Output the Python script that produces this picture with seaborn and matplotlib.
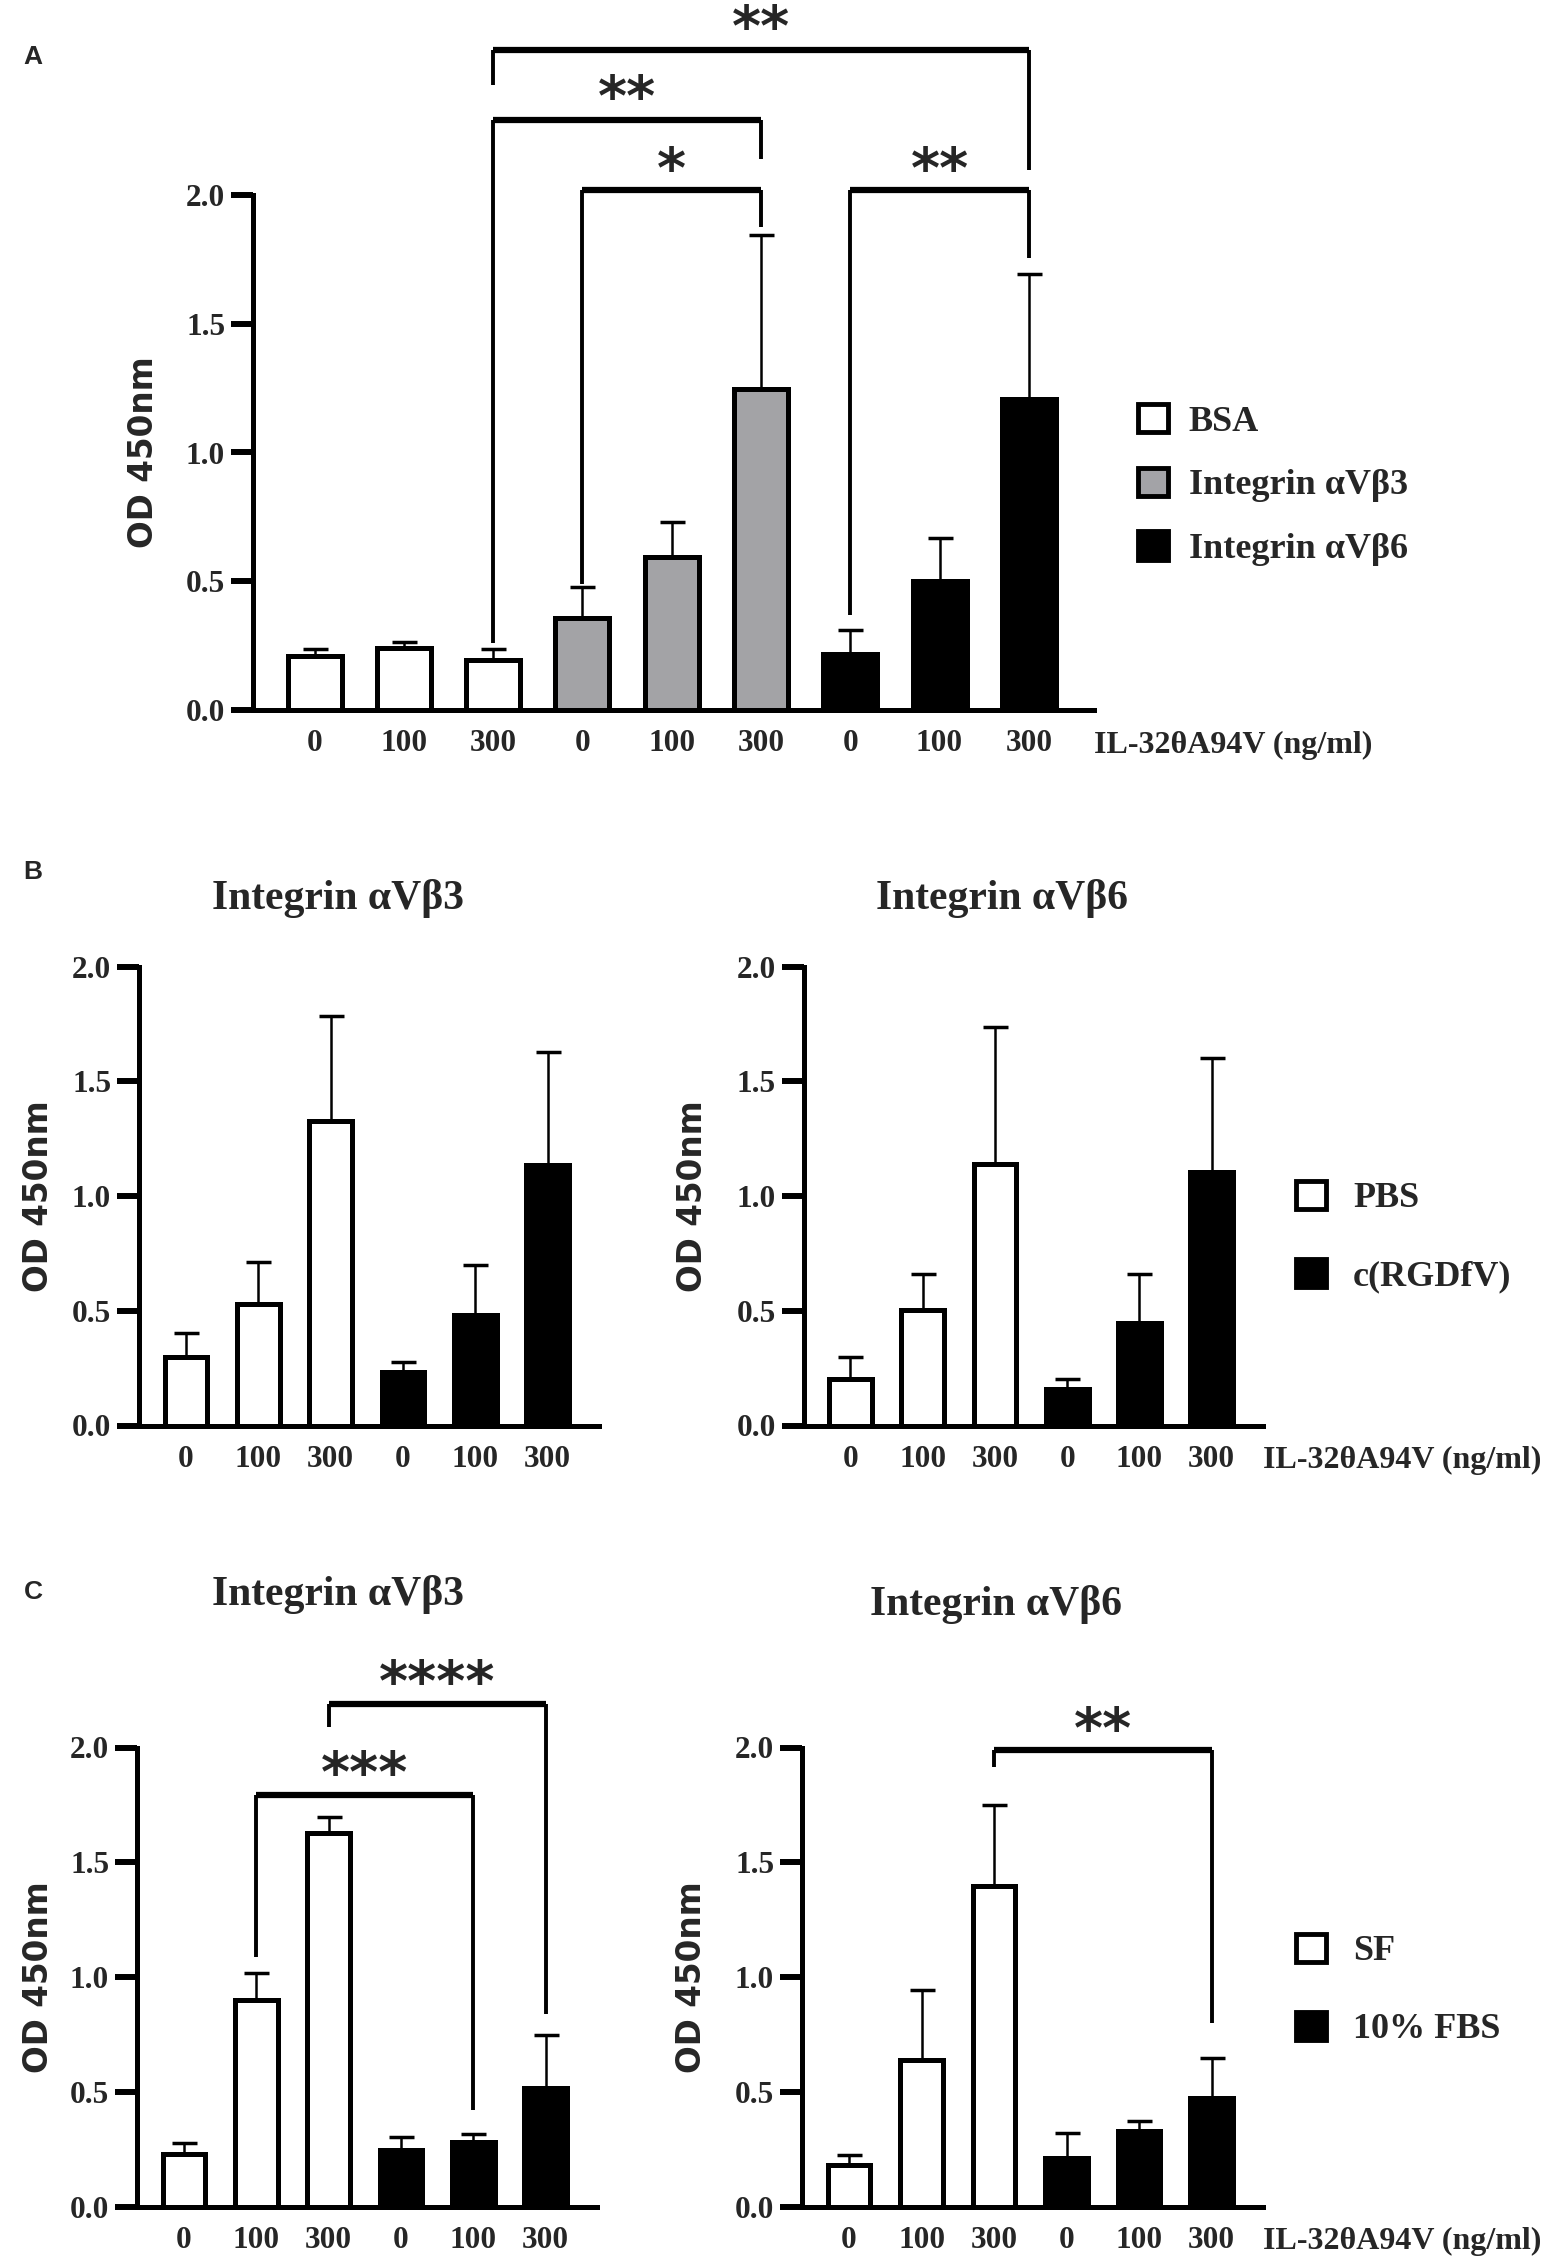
import numpy as np
import pandas as pd
import matplotlib
matplotlib.use("Agg")
import matplotlib.pyplot as plt
import seaborn as sns
from matplotlib.patches import Patch

# ---------------- data ----------------
doses = ["0", "100", "300"]
x_title = "IL-32θA94V (ng/ml)"
y_title = "OD 450nm"

# Panel A
a_groups = ["BSA", "Integrin αVβ3", "Integrin αVβ6"]
a_bsa_mean = [0.21, 0.24, 0.195]
a_bsa_sd = [0.026, 0.025, 0.043]
a_b3_mean = [0.357, 0.593, 1.246]
a_b3_sd = [0.120, 0.139, 0.599]
a_b6_mean = [0.218, 0.500, 1.208]
a_b6_sd = [0.093, 0.167, 0.487]

# Panel B
b_groups = ["PBS", "c(RGDfV)"]
b_b3_pbs_mean = [0.300, 0.530, 1.328]
b_b3_pbs_sd = [0.103, 0.181, 0.458]
b_b3_rgd_mean = [0.234, 0.481, 1.137]
b_b3_rgd_sd = [0.041, 0.220, 0.491]
b_b6_pbs_mean = [0.201, 0.502, 1.140]
b_b6_pbs_sd = [0.096, 0.160, 0.596]
b_b6_rgd_mean = [0.160, 0.445, 1.104]
b_b6_rgd_sd = [0.043, 0.217, 0.496]

# Panel C
c_groups = ["SF", "10% FBS"]
c_b3_sf_mean = [0.232, 0.903, 1.630]
c_b3_sf_sd = [0.045, 0.117, 0.067]
c_b3_fbs_mean = [0.250, 0.283, 0.519]
c_b3_fbs_sd = [0.053, 0.036, 0.228]
c_b6_sf_mean = [0.182, 0.640, 1.398]
c_b6_sf_sd = [0.044, 0.305, 0.352]
c_b6_fbs_mean = [0.210, 0.327, 0.473]
c_b6_fbs_sd = [0.109, 0.045, 0.173]

panel_titles = ["Integrin αVβ3", "Integrin αVβ6"]

# ---------------- style ----------------
sns.set_theme(style="ticks")
plt.rcParams["font.family"] = ["Liberation Serif", "DejaVu Serif"]
plt.rcParams["font.weight"] = "bold"

W, H = 1559, 2266
fig = plt.figure(figsize=(W / 100, H / 100), dpi=100)

WHITE, GREY, BLACK = "#ffffff", "#a3a3a7", "#000000"


def px_axes(left, right, y0, y2):
    return fig.add_axes([left / W, 1 - y0 / H, (right - left) / W, (y0 - y2) / H])


def bar_panel(ax, groups, means, sds, colors, xlim, width, ylabel_px, ax_w):
    cats, vals, hues = [], [], []
    for g, m in zip(groups, means):
        for d, v in zip(doses, m):
            cats.append(f"{g}|{d}")
            vals.append(v)
            hues.append(g)
    df = pd.DataFrame({"cat": cats, "val": vals, "grp": hues})
    sns.barplot(data=df, x="cat", y="val", hue="grp", order=cats,
                hue_order=groups, palette=dict(zip(groups, colors)),
                dodge=False, width=width, edgecolor="black", linewidth=3.6,
                errorbar=None, legend=False, ax=ax)
    err = np.concatenate([np.asarray(s) for s in sds])
    ax.errorbar(np.arange(len(cats)), vals,
                yerr=[np.zeros(len(cats)), err], fmt="none", ecolor="black",
                elinewidth=1.8, capsize=9, capthick=2.5, zorder=3)
    ax.set_xlim(*xlim)
    ax.set_ylim(0, 2.0)
    ax.set_xticks(np.arange(len(cats)))
    ax.set_xticklabels(doses * len(groups))
    ax.set_yticks([0, 0.5, 1.0, 1.5, 2.0])
    ax.set_yticklabels(["0.0", "0.5", "1.0", "1.5", "2.0"])
    ax.tick_params(axis="x", length=0, pad=14, labelsize=22.5)
    ax.tick_params(axis="y", length=16, width=4.3, pad=4, labelsize=22.5,
                   direction="out", color="black")
    for lab in ax.get_xticklabels() + ax.get_yticklabels():
        lab.set_fontweight("bold")
    sns.despine(ax=ax)
    for s in ["left", "bottom"]:
        ax.spines[s].set_linewidth(3.6)
        ax.spines[s].set_color("black")
    ax.set_xlabel("")
    ax.set_ylabel(y_title, fontfamily="DejaVu Sans", fontweight="bold",
                  fontsize=23.5)
    ax.yaxis.set_label_coords(-(ylabel_px - 19) / ax_w, 0.5)


def add_xtitle(ax):
    ax.annotate(x_title, xy=(1, 0), xycoords="axes fraction",
                xytext=(0, -25.5), textcoords="offset points",
                ha="left", va="center", fontsize=23, fontweight="bold",
                annotation_clip=False)


def bracket(ax, x1, x2, yh, yl1, yl2):
    ax.plot([x1, x2], [yh, yh], color="black", lw=4.5, clip_on=False,
            solid_capstyle="butt", zorder=4)
    ax.plot([x1, x1], [yh, yl1], color="black", lw=2.8, clip_on=False,
            solid_capstyle="butt", zorder=4)
    ax.plot([x2, x2], [yh, yl2], color="black", lw=2.8, clip_on=False,
            solid_capstyle="butt", zorder=4)


def stars(ax, x, yc, s, size=40):
    ax.annotate(s, xy=(x, yc), xytext=(0, -0.55 * size),
                textcoords="offset points", ha="center", va="baseline",
                fontfamily="DejaVu Sans", fontweight="bold", fontsize=size,
                annotation_clip=False)


def legend(ax, groups, colors, x_px, y_px, spacing, pad):
    handles = [Patch(facecolor=c, edgecolor="black", linewidth=3.5, label=g)
               for g, c in zip(groups, colors)]
    ax.legend(handles=handles, loc="center left",
              bbox_to_anchor=(x_px / W, 1 - y_px / H),
              bbox_transform=fig.transFigure, frameon=False,
              prop={"size": 26, "weight": "bold"}, handlelength=0.83,
              handleheight=0.83, handletextpad=pad, labelspacing=spacing,
              borderpad=0, borderaxespad=0)


# ---------------- Panel A ----------------
axA = px_axes(253, 1094, 710, 195)
bar_panel(axA, a_groups, [a_bsa_mean, a_b3_mean, a_b6_mean],
          [a_bsa_sd, a_b3_sd, a_b6_sd], [WHITE, GREY, BLACK],
          (-0.69, 8.73), 0.605, 112, 841)
add_xtitle(axA)
bracket(axA, 2, 8, 2.563, 2.427, 2.097)
bracket(axA, 2, 5, 2.291, 0.26, 2.14)
bracket(axA, 3, 5, 2.02, 0.49, 1.874)
bracket(axA, 6, 8, 2.02, 0.37, 1.757)
stars(axA, 5, 2.70, "**")
stars(axA, 3.5, 2.43, "**")
stars(axA, 4, 2.15, "*")
stars(axA, 7, 2.15, "**")
legend(axA, a_groups, [WHITE, GREY, BLACK], 1138, 485, 0.80, 0.58)

# ---------------- Panel B ----------------
axB1 = px_axes(139, 599, 1425.5, 966.5)
bar_panel(axB1, b_groups, [b_b3_pbs_mean, b_b3_rgd_mean],
          [b_b3_pbs_sd, b_b3_rgd_sd], [WHITE, BLACK],
          (-0.65, 5.71), 0.59, 103, 460)
axB2 = px_axes(803.5, 1263, 1425.5, 966.5)
bar_panel(axB2, b_groups, [b_b6_pbs_mean, b_b6_rgd_mean],
          [b_b6_pbs_sd, b_b6_rgd_sd], [WHITE, BLACK],
          (-0.65, 5.71), 0.59, 113, 459.5)
add_xtitle(axB2)
legend(axB2, b_groups, [WHITE, BLACK], 1296, 1237, 1.2, 0.75)

# ---------------- Panel C ----------------
axC1 = px_axes(137, 597, 2207, 1747.5)
bar_panel(axC1, c_groups, [c_b3_sf_mean, c_b3_fbs_mean],
          [c_b3_sf_sd, c_b3_fbs_sd], [WHITE, BLACK],
          (-0.65, 5.71), 0.59, 101, 460)
bracket(axC1, 1, 4, 1.794, 1.09, 0.424)
bracket(axC1, 2, 5, 2.19, 2.09, 0.838)
stars(axC1, 2.5, 1.945, "***")
stars(axC1, 3.5, 2.34, "****")

axC2 = px_axes(802, 1263, 2206.5, 1747.5)
bar_panel(axC2, c_groups, [c_b6_sf_mean, c_b6_fbs_mean],
          [c_b6_sf_sd, c_b6_fbs_sd], [WHITE, BLACK],
          (-0.65, 5.71), 0.59, 113, 461)
add_xtitle(axC2)
bracket(axC2, 2, 5, 1.99, 1.913, 0.798)
stars(axC2, 3.5, 2.135, "**")
legend(axC2, c_groups, [WHITE, BLACK], 1296, 1990, 1.2, 0.75)

# ---------------- titles & panel letters ----------------
for (tx, ty), t in zip([(338, 898), (1002, 898)], panel_titles):
    fig.text(tx / W, 1 - ty / H, t, ha="center", va="center", fontsize=30,
             fontweight="bold")
for (tx, ty), t in zip([(338, 1594), (996, 1604)], panel_titles):
    fig.text(tx / W, 1 - ty / H, t, ha="center", va="center", fontsize=30,
             fontweight="bold")
for (tx, ty), t in zip([(33, 57), (33, 872), (33, 1592)], ["A", "B", "C"]):
    fig.text(tx / W, 1 - ty / H, t, ha="center", va="center", fontsize=19,
             fontfamily=["Liberation Sans", "DejaVu Sans"], fontweight="bold")

fig.savefig("out.png", dpi=100)
